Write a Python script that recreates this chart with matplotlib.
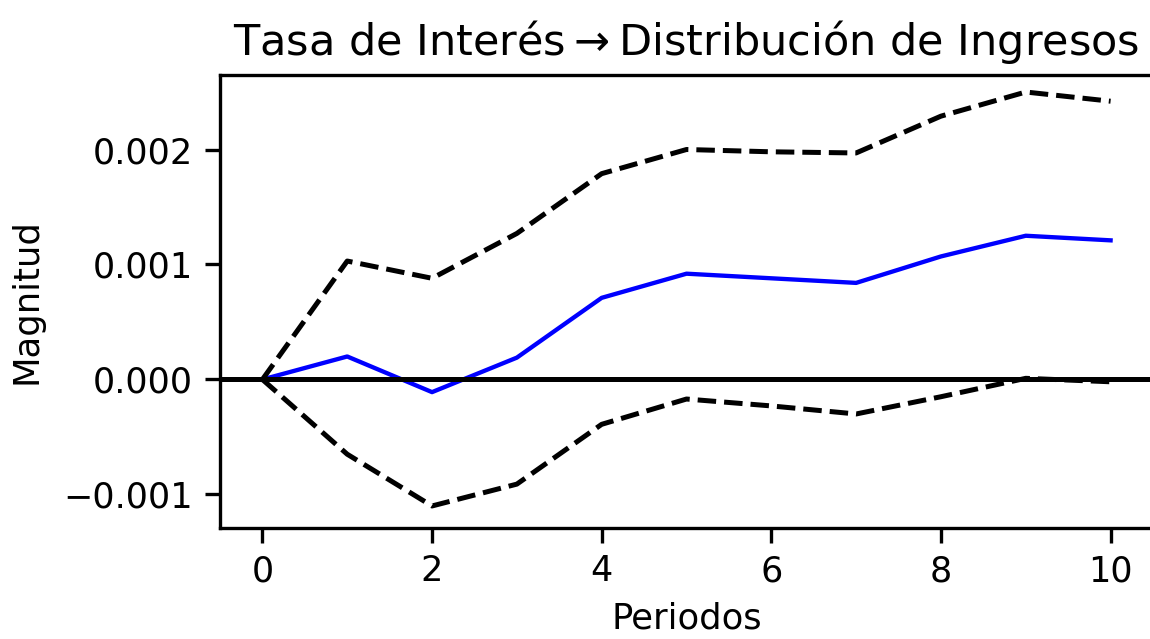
import matplotlib
matplotlib.use("Agg")
import matplotlib.pyplot as plt
import numpy as np

# impulse response values
periodos = np.arange(11)
irf = [0.0, 0.0002, -0.00011, 0.00019, 0.00071, 0.00092, 0.00088, 0.00084, 0.00107, 0.00125, 0.00121]
upper = [0.0, 0.00103, 0.00088, 0.00127, 0.00179, 0.00200, 0.00198, 0.00197, 0.00229, 0.00250, 0.00242]
lower = [0.0, -0.00065, -0.00110, -0.00091, -0.00039, -0.00017, -0.00023, -0.00030, -0.00015, 0.00001, -0.00002]

dpi = 240
fig = plt.figure(figsize=(1150 / dpi, 639 / dpi), dpi=dpi)
ax = fig.add_axes([0.1913, 0.174, 0.8113, 0.709])

ax.plot(periodos, irf, color='blue', linewidth=1.3)
ax.plot(periodos, upper, color='black', linestyle='--', linewidth=1.5)
ax.plot(periodos, lower, color='black', linestyle='--', linewidth=1.5)
ax.axhline(0, color='black', linewidth=1.5)

ax.set_xlim(-0.5, 10.5)
ax.set_ylim(-0.00129, 0.00265)
ax.set_yticks([-0.001, 0.0, 0.001, 0.002])
ax.tick_params(labelsize=10.5, width=1.0, length=4.5)
for s in ax.spines.values():
    s.set_linewidth(1.0)
ax.set_title('Tasa de Interés$\\rightarrow$Distribución de Ingresos', fontsize=12.9)
ax.set_xlabel('Periodos', fontsize=10.6)
ax.set_ylabel('Magnitud', fontsize=10.6, labelpad=6)

plt.savefig('out.png', dpi=dpi)
